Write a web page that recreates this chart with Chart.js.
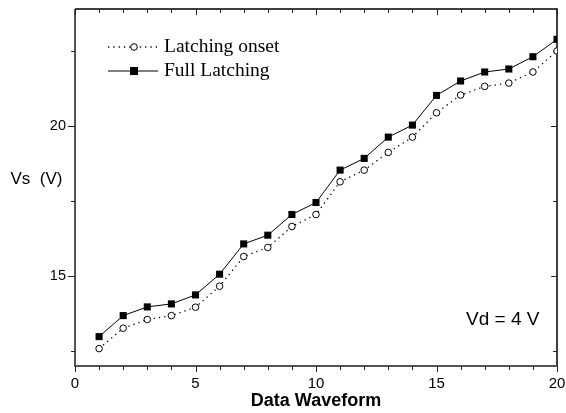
<!DOCTYPE html>
<html>
<head>
<meta charset="utf-8">
<script src="https://cdn.jsdelivr.net/npm/chart.js@4/dist/chart.umd.min.js"></script>
<style>
  html, body { margin: 0; padding: 0; background: #fff; }
  #wrap { width: 566px; height: 413px; }
</style>
</head>
<body>
<div id="wrap"><canvas id="grafico"></canvas></div>
<script>
// data
const waveform = [1, 2, 3, 4, 5, 6, 7, 8, 9, 10, 11, 12, 13, 14, 15, 16, 17, 18, 19, 20]
const onset = [12.58, 13.26, 13.55, 13.68, 13.96, 14.66, 15.65, 15.95, 16.65, 17.05,
               18.14, 18.53, 19.12, 19.63, 20.44, 21.03, 21.32, 21.43, 21.80, 22.50]
const full = [12.98, 13.68, 13.97, 14.07, 14.37, 15.06, 16.07, 16.36, 17.05, 17.45,
              18.53, 18.92, 19.63, 20.03, 21.02, 21.50, 21.80, 21.90, 22.31, 22.89]

const xLabels = [0, 5, 10, 15, 20]
const xMinor = [1, 2, 3, 4, 6, 7, 8, 9, 11, 12, 13, 14, 16, 17, 18, 19]
const yLabels = [15, 20]
const yMinor = [12.5, 17.5, 22.5]

const sans = "'Liberation Sans', Arial, sans-serif"
const serif = "'Liberation Serif', 'Times New Roman', serif"

// frame, tick marks and free text
const moldura = {
    id: 'moldura',
    beforeDatasetsDraw(chart) {
        const { ctx, chartArea: a, scales: { x, y } } = chart
        ctx.save()
        ctx.lineCap = 'butt'

        // top + right (black)
        ctx.strokeStyle = '#000'
        ctx.lineWidth = 1.5
        ctx.beginPath()
        ctx.moveTo(a.left, a.top); ctx.lineTo(a.right, a.top); ctx.lineTo(a.right, a.bottom)
        ctx.stroke()
        // left + bottom (dark gray)
        ctx.strokeStyle = '#555'
        ctx.lineWidth = 2
        ctx.beginPath()
        ctx.moveTo(a.left, a.top); ctx.lineTo(a.left, a.bottom); ctx.lineTo(a.right, a.bottom)
        ctx.stroke()

        ctx.lineWidth = 1
        ctx.strokeStyle = '#222'
        ctx.beginPath()
        xLabels.forEach(v => {
            const px = Math.round(x.getPixelForValue(v)) + 0.5
            ctx.moveTo(px, a.bottom); ctx.lineTo(px, a.bottom + 6)
            ctx.moveTo(px, a.top); ctx.lineTo(px, a.top + 6)
        })
        xMinor.forEach(v => {
            const px = Math.round(x.getPixelForValue(v)) + 0.5
            ctx.moveTo(px, a.bottom); ctx.lineTo(px, a.bottom + 4)
            ctx.moveTo(px, a.top); ctx.lineTo(px, a.top + 4)
        })
        yLabels.forEach(v => {
            const py = Math.round(y.getPixelForValue(v)) + 0.5
            ctx.moveTo(a.left, py); ctx.lineTo(a.left - 7, py)
            ctx.moveTo(a.right, py); ctx.lineTo(a.right - 6, py)
        })
        yMinor.forEach(v => {
            const py = Math.round(y.getPixelForValue(v)) + 0.5
            ctx.moveTo(a.left, py); ctx.lineTo(a.left - 4, py)
            ctx.moveTo(a.right, py); ctx.lineTo(a.right - 4, py)
        })
        ctx.stroke()
        ctx.restore()
    },
    afterDraw(chart) {
        const { ctx, data } = chart
        ctx.save()
        ctx.fillStyle = '#000'

        // y title, horizontal
        ctx.font = '17px ' + sans
        ctx.textAlign = 'center'
        ctx.textBaseline = 'middle'
        ctx.fillText('Vs  (V)', 36.5, 179)

        // note
        ctx.font = '19px ' + sans
        ctx.textAlign = 'left'
        ctx.fillText('Vd = 4 V', 466, 320)

        // legend
        const rows = [
            { ds: data.datasets[0], y: 47 },
            { ds: data.datasets[1], y: 71 }
        ]
        rows.forEach(r => {
            ctx.save()
            ctx.strokeStyle = '#000'
            ctx.lineWidth = r.ds.borderWidth
            ctx.setLineDash(r.ds.borderDash || [])
            ctx.beginPath()
            ctx.moveTo(108, r.y); ctx.lineTo(158, r.y)
            ctx.stroke()
            ctx.setLineDash([])
            ctx.lineWidth = 1
            if (r.ds.pointStyle === 'rect') {
                ctx.fillStyle = '#000'
                ctx.fillRect(130, r.y - 4, 8, 8)
            } else {
                ctx.fillStyle = '#fff'
                ctx.beginPath()
                ctx.arc(134, r.y, 3.3, 0, Math.PI * 2)
                ctx.fill(); ctx.stroke()
            }
            ctx.restore()
            ctx.font = '19.5px ' + serif
            ctx.textAlign = 'left'
            ctx.textBaseline = 'middle'
            ctx.fillStyle = '#000'
            ctx.fillText(r.ds.label, 164, r.y)
        })
        ctx.restore()
    }
}

const grafico = document.getElementById('grafico')

new Chart(grafico, {
    type: 'line',
    data: {
        datasets: [{
            label: 'Latching onset',
            data: waveform.map((w, i) => ({ x: w, y: onset[i] })),
            borderColor: '#000',
            borderWidth: 1.3,
            borderDash: [1.3, 4],
            pointStyle: 'circle',
            pointRadius: 3.3,
            pointBorderWidth: 1,
            pointBackgroundColor: '#fff',
            pointBorderColor: '#000',
            tension: 0
        }, {
            label: 'Full Latching',
            data: waveform.map((w, i) => ({ x: w, y: full[i] })),
            borderColor: '#000',
            borderWidth: 1,
            pointStyle: 'rect',
            pointRadius: 5,
            pointBorderWidth: 0,
            pointBackgroundColor: '#000',
            pointBorderColor: '#000',
            tension: 0
        }]
    },
    options: {
        responsive: true,
        maintainAspectRatio: false,
        animation: false,
        layout: { padding: { top: 9, right: 9, left: 0, bottom: 0 } },
        plugins: {
            legend: { display: false },
            tooltip: { enabled: false }
        },
        scales: {
            x: {
                type: 'linear',
                min: 0,
                max: 20,
                afterBuildTicks: s => { s.ticks = xLabels.map(v => ({ value: v })) },
                afterFit: s => { s.height = 47; s.paddingLeft = 0; s.paddingRight = 0 },
                grid: { display: false, drawTicks: false },
                border: { display: false },
                ticks: {
                    color: '#000',
                    padding: 9,
                    maxRotation: 0,
                    font: { family: sans, size: 15 }
                },
                title: {
                    display: true,
                    text: 'Data Waveform',
                    color: '#000',
                    padding: { top: 0, bottom: 1 },
                    font: { family: sans, size: 18, weight: 'bold' }
                }
            },
            y: {
                min: 12,
                max: 23.9,
                afterBuildTicks: s => { s.ticks = yLabels.map(v => ({ value: v })) },
                afterFit: s => { s.width = 75; s.paddingTop = 0; s.paddingBottom = 0 },
                grid: { display: false, drawTicks: false },
                border: { display: false },
                ticks: {
                    color: '#000',
                    padding: 9,
                    font: { family: sans, size: 14.5 }
                }
            }
        }
    },
    plugins: [moldura]
})
</script>
</body>
</html>
